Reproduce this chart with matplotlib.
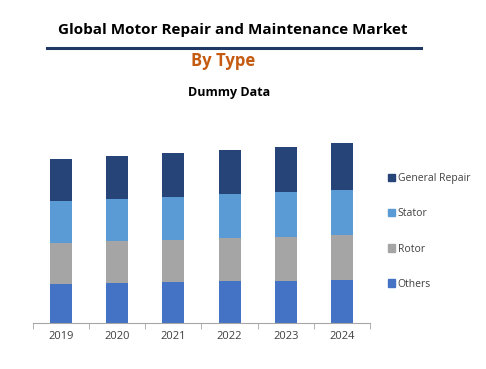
import numpy as np
import matplotlib.pyplot as plt
from matplotlib.patches import Patch

plt.rcParams['font.family'] = ['Open Sans', 'DejaVu Sans']

# Data (arbitrary units)
years = ['2019', '2020', '2021', '2022', '2023', '2024']
others = [116, 119, 122, 125, 125, 128]
rotor = [123, 126, 126, 129, 132, 135]
stator = [126, 126, 129, 132, 135, 135]
general_repair = [126, 129, 132, 132, 135, 141]

series = [('Others', others, '#4472c4'),
          ('Rotor', rotor, '#a5a5a5'),
          ('Stator', stator, '#5b9bd5'),
          ('General Repair', general_repair, '#264478')]

fig = plt.figure(figsize=(4.86, 3.69), dpi=100)
ax = fig.add_axes([0.0679, 0.1255, 0.6934, 0.542])

x = np.arange(len(years))
bottom = np.zeros(len(years))
for name, vals, color in series:
    ax.bar(x, vals, width=0.39, bottom=bottom, color=color, label=name)
    bottom += np.array(vals)

ax.set_xlim(-0.5, len(years) - 0.5)
ax.set_ylim(0, 600)
ax.set_yticks([])
for s in ['top', 'left', 'right']:
    ax.spines[s].set_visible(False)
ax.spines['bottom'].set_color('#a6a6a6')
ax.set_xticks(x)
ax.set_xticklabels(years, fontsize=8, color='#404040')
ax.tick_params(axis='x', length=0, pad=6)
ax.set_xticks(np.arange(-0.5, len(years)), minor=True)
ax.tick_params(axis='x', which='minor', length=4, color='#a6a6a6')

# legend, top entry first
handles = [Patch(color=c, label=n) for n, v, c in series][::-1]
fig.legend(handles=handles, loc='upper left', bbox_to_anchor=(0.779, 0.556),
           frameon=False, fontsize=7.5, labelspacing=2.32,
           handlelength=0.65, handleheight=0.7, handletextpad=0.3,
           labelcolor='#404040')

fig.text(0.479, 0.919, 'Global Motor Repair and Maintenance Market',
         ha='center', va='center', fontsize=11, fontweight='bold', color='black')
fig.add_artist(plt.Line2D([0.096, 0.866], [0.871, 0.871], color='#1f3864', lw=2.2))
fig.text(0.459, 0.835, 'By Type', ha='center', va='center',
         fontsize=12, fontweight='bold', color='#c55a11')
fig.text(0.471, 0.748, 'Dummy Data', ha='center', va='center',
         fontsize=9, fontweight='bold', color='black')

plt.savefig('out.png', dpi=100)
